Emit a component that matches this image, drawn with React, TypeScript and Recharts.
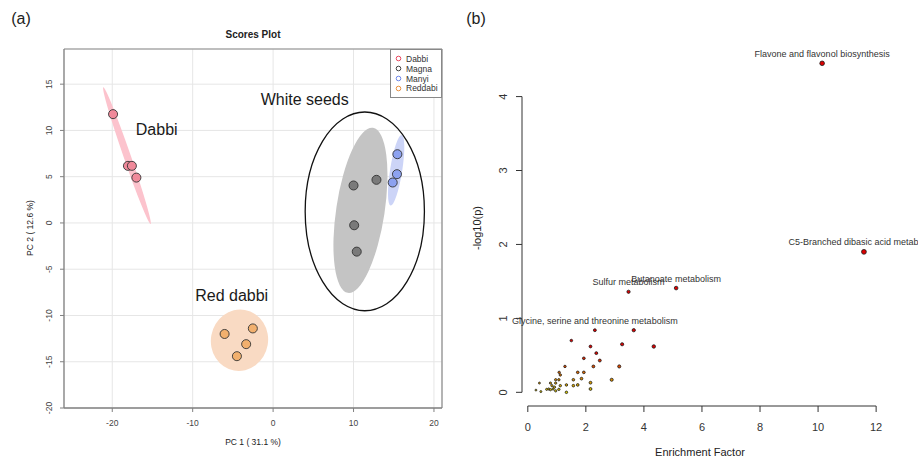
import { ScatterChart, Scatter, XAxis, YAxis, CartesianGrid, ReferenceLine } from "recharts";

const FONT = '"Liberation Sans", Arial, Helvetica, sans-serif';

// ---- (a) PCA scores ----
const dabbiScores = [
  { x: -19.9, y: 11.76 },
  { x: -18.05, y: 6.17 },
  { x: -17.56, y: 6.17 },
  { x: -17.0, y: 4.9 },
];
const magnaScores = [
  { x: 10.0, y: 4.05 },
  { x: 12.85, y: 4.66 },
  { x: 10.08, y: -0.25 },
  { x: 10.4, y: -3.1 },
];
const manyiScores = [
  { x: 15.45, y: 7.43 },
  { x: 15.4, y: 5.27 },
  { x: 14.87, y: 4.37 },
];
const reddabiScores = [
  { x: -6.03, y: -12.0 },
  { x: -2.52, y: -11.4 },
  { x: -3.35, y: -13.1 },
  { x: -4.5, y: -14.4 },
];

// confidence ellipses: centre, one end of the major axis, minor/major ratio
const ellipseGroups = ["Dabbi", "Magna", "Manyi", "Reddabi", "White seeds"];
const ellipseCentres = [
  { x: -18.17, y: 7.27 },
  { x: 10.86, y: 1.37 },
  { x: 15.3, y: 5.7 },
  { x: -4.18, y: -12.68 },
  { x: 11.4, y: 1.25 },
];
const ellipseTips = [
  { x: -21.11, y: 14.66 },
  { x: 12.42, y: 10.29 },
  { x: 15.99, y: 9.51 },
  { x: -3.5, y: -9.41 },
  { x: 11.4, y: 11.99 },
];
const ellipseRatios = [0.05, 0.29, 0.17, 0.93, 0.6];

const groupLabelText = ["Dabbi", "White seeds", "Red dabbi"];
const groupLabelX = [-14.47, 3.93, -5.15];
const groupLabelY = [10.15, 13.36, -7.86];

const pcXTicks = [-20, -10, 0, 10, 20];
const pcYTicks = [-20, -15, -10, -5, 0, 5, 10, 15];

// ---- (b) enrichment ----
const namedPathways = [
  "Flavone and flavonol biosynthesis",
  "C5-Branched dibasic acid metabolism",
  "Butanoate metabolism",
  "Sulfur metabolism",
  "Glycine, serine and threonine metabolism",
];
const namedEF = [10.14, 11.58, 5.11, 3.47, 2.31];
const namedLogP = [4.45, 1.9, 1.41, 1.36, 0.84];

const otherEF = [
  3.65, 1.5, 2.16, 3.25, 4.34, 2.36, 1.93, 2.48, 1.28, 2.26, 3.15, 1.08, 1.12, 1.72,
  1.93, 1.85, 1.07, 0.96, 1.57, 2.89, 2.16, 0.78, 0.96, 0.4, 1.33, 1.72, 1.57, 1.12,
  0.83, 0.92, 0.72, 0.87, 2.16, 0.65, 1.07, 0.96, 0.28, 0.45, 1.33, 0.78,
];
const otherLogP = [
  0.84, 0.7, 0.62, 0.65, 0.62, 0.53, 0.46, 0.43, 0.35, 0.35, 0.35, 0.27, 0.235, 0.27,
  0.27, 0.185, 0.17, 0.17, 0.17, 0.17, 0.13, 0.125, 0.125, 0.125, 0.1, 0.1, 0.09, 0.09,
  0.09, 0.07, 0.045, 0.045, 0.045, 0.04, 0.04, 0.02, 0.03, 0.01, 0.0, 0.035,
];

const efTicks = [0, 2, 4, 6, 8, 10, 12];
const logPTicks = [0, 1, 2, 3, 4];

// ---- layout ----
const A_W = 460;
const A_H = 460;
const A_MARGIN = { top: 49, right: 18, bottom: 0, left: 0 };
const A_YAXIS_W = 64;
const A_XAXIS_H = 52;
const A_XDOM: [number, number] = [-26, 21];
const A_YDOM: [number, number] = [-20, 18.8];
const KX_A = (A_W - A_MARGIN.left - A_MARGIN.right - A_YAXIS_W) / (A_XDOM[1] - A_XDOM[0]);
const KY_A = (A_H - A_MARGIN.top - A_MARGIN.bottom - A_XAXIS_H) / (A_YDOM[1] - A_YDOM[0]);

const B_W = 458;
const B_H = 460;
const B_XDOM: [number, number] = [-0.2, 12.03];
const B_YDOM: [number, number] = [-0.185, 4.63];

const GROUP_POINT = {
  Dabbi: "#f0899a",
  Magna: "#7a7a7a",
  Manyi: "#8da2f0",
  Reddabi: "#f2b06e",
};
const GROUP_LEGEND = {
  Dabbi: "#e8485f",
  Magna: "#404040",
  Manyi: "#6c85e8",
  Reddabi: "#e89040",
};
const ELLIPSE_STYLE: Record<string, { fill: string; stroke: string; sw: number }> = {
  Dabbi: { fill: "#fcc3cd", stroke: "none", sw: 0 },
  Magna: { fill: "#c4c4c4", stroke: "none", sw: 0 },
  Manyi: { fill: "#ccd4f7", stroke: "none", sw: 0 },
  Reddabi: { fill: "#f9dac3", stroke: "none", sw: 0 },
  "White seeds": { fill: "none", stroke: "#111", sw: 1.3 },
};

const ellipses = ellipseGroups.map((g, i) => ({
  group: g,
  x: ellipseCentres[i].x,
  y: ellipseCentres[i].y,
  tipX: ellipseTips[i].x,
  tipY: ellipseTips[i].y,
  ratio: ellipseRatios[i],
}));
const groupLabels = groupLabelText.map((t, i) => ({ text: t, x: groupLabelX[i], y: groupLabelY[i] }));
const pathways = [
  ...otherEF.map((x, i) => ({ x, y: otherLogP[i], name: "" })),
  ...namedEF.map((x, i) => ({ x, y: namedLogP[i], name: namedPathways[i] })),
];

function EllipseShape(props: any) {
  const { cx, cy, payload } = props;
  const dx = (payload.tipX - payload.x) * KX_A;
  const dy = -(payload.tipY - payload.y) * KY_A;
  const a = Math.hypot(dx, dy);
  const ang = (Math.atan2(dy, dx) * 180) / Math.PI;
  const st = ELLIPSE_STYLE[payload.group];
  return (
    <ellipse
      cx={cx}
      cy={cy}
      rx={a}
      ry={a * payload.ratio}
      transform={`rotate(${ang} ${cx} ${cy})`}
      fill={st.fill}
      stroke={st.stroke}
      strokeWidth={st.sw}
    />
  );
}

// yellow (weak) -> red (strong), like R's heat colours
function heat(v: number) {
  const t = Math.max(0, Math.min(1, v / 0.55));
  return `rgb(220, ${Math.round(205 * (1 - t))}, 0)`;
}

function PathwayDot(props: any) {
  const { cx, cy, payload } = props;
  const r = 0.65 + 0.52 * Math.sqrt(payload.x);
  return (
    <g>
      <circle cx={cx} cy={cy} r={r} fill={heat(payload.y)} stroke="#1a1a1a" strokeWidth={0.8} />
      {payload.name && (
        <text
          x={cx}
          y={cy - 9.5}
          textAnchor="middle"
          dominantBaseline="central"
          fontSize={9}
          fill="#333"
          fontFamily={FONT}
        >
          {payload.name}
        </text>
      )}
    </g>
  );
}

function FlatTick({ x, y, payload, size, color }: any) {
  return (
    <text x={x} y={y} textAnchor="middle" dominantBaseline="central" fontSize={size} fill={color} fontFamily={FONT}>
      {payload.value}
    </text>
  );
}

function RotTick({ x, y, payload, size, color }: any) {
  return (
    <text
      x={x}
      y={y}
      transform={`rotate(-90 ${x} ${y})`}
      textAnchor="middle"
      dominantBaseline="central"
      fontSize={size}
      fill={color}
      fontFamily={FONT}
    >
      {payload.value}
    </text>
  );
}

function Centered({ x, y, size, rotate, bold, children }: any) {
  return (
    <div
      style={{
        position: "absolute",
        left: x,
        top: y,
        transform: `translate(-50%, -50%)${rotate ? " rotate(-90deg)" : ""}`,
        whiteSpace: "nowrap",
        lineHeight: 1,
        fontSize: size,
        fontWeight: bold ? "bold" : "normal",
        color: "#222",
      }}
    >
      {children}
    </div>
  );
}

function PcaLegend() {
  const groups = Object.keys(GROUP_LEGEND) as (keyof typeof GROUP_LEGEND)[];
  return (
    <div
      style={{
        position: "absolute",
        left: 390,
        top: 49,
        width: 52,
        height: 49,
        border: "1px solid #888",
        background: "#fff",
        boxSizing: "border-box",
        paddingTop: 4,
      }}
    >
      {groups.map((g) => (
        <div key={g} style={{ display: "flex", alignItems: "center", height: 9.8, fontSize: 8.5, color: "#333" }}>
          <svg width={13} height={9} style={{ marginLeft: 1 }}>
            <circle cx={6.5} cy={4.5} r={2.3} fill="none" stroke={GROUP_LEGEND[g]} strokeWidth={1} />
          </svg>
          <span style={{ marginLeft: 1 }}>{g}</span>
        </div>
      ))}
    </div>
  );
}

export default function App() {
  return (
    <div
      style={{
        position: "absolute",
        left: 0,
        top: 0,
        width: 921,
        height: 460,
        background: "#fff",
        fontFamily: FONT,
        overflow: "hidden",
      }}
    >
      <div style={{ position: "absolute", left: 0, top: 0 }}>
        <ScatterChart width={A_W} height={A_H} margin={A_MARGIN}>
          <CartesianGrid stroke="#e6e6e6" strokeWidth={1} />
          <XAxis
            type="number"
            dataKey="x"
            domain={A_XDOM}
            ticks={pcXTicks}
            interval={0}
            height={A_XAXIS_H}
            axisLine={{ stroke: "#808080", strokeWidth: 1.3 }}
            tickLine={{ stroke: "#808080" }}
            tickSize={4}
            tickMargin={11}
            tick={(p: any) => <FlatTick {...p} size={8.5} color="#444" />}
          />
          <YAxis
            type="number"
            dataKey="y"
            domain={A_YDOM}
            ticks={pcYTicks}
            interval={0}
            width={A_YAXIS_W}
            axisLine={{ stroke: "#808080", strokeWidth: 1.3 }}
            tickLine={{ stroke: "#808080" }}
            tickSize={4}
            tickMargin={11}
            tick={(p: any) => <RotTick {...p} size={8.5} color="#444" />}
          />
          <ReferenceLine y={A_YDOM[1]} stroke="#8a8a8a" strokeWidth={1.2} />
          <ReferenceLine x={A_XDOM[1]} stroke="#8a8a8a" strokeWidth={1.2} />
          <Scatter data={ellipses} shape={(p: any) => <EllipseShape {...p} />} isAnimationActive={false} />
          <Scatter data={dabbiScores} fill={GROUP_POINT.Dabbi} stroke="#333" strokeWidth={0.9} shape="circle" isAnimationActive={false} />
          <Scatter data={magnaScores} fill={GROUP_POINT.Magna} stroke="#333" strokeWidth={0.9} shape="circle" isAnimationActive={false} />
          <Scatter data={manyiScores} fill={GROUP_POINT.Manyi} stroke="#333" strokeWidth={0.9} shape="circle" isAnimationActive={false} />
          <Scatter data={reddabiScores} fill={GROUP_POINT.Reddabi} stroke="#333" strokeWidth={0.9} shape="circle" isAnimationActive={false} />
          <Scatter
            data={groupLabels}
            isAnimationActive={false}
            shape={(p: any) => (
              <text
                x={p.cx}
                y={p.cy}
                textAnchor="middle"
                dominantBaseline="central"
                fontSize={16}
                fill="#1a1a1a"
                fontFamily={FONT}
              >
                {p.payload.text}
              </text>
            )}
          />
        </ScatterChart>
        <PcaLegend />
      </div>

      <div style={{ position: "absolute", left: 460, top: 0, width: B_W, height: B_H, overflow: "hidden" }}>
        <ScatterChart width={B_W} height={B_H} margin={{ top: 50, right: 41, bottom: 0, left: 0 }}>
          <XAxis
            type="number"
            dataKey="x"
            domain={B_XDOM}
            ticks={efTicks}
            interval={0}
            height={54}
            axisLine={false}
            tickLine={{ stroke: "#333" }}
            tickSize={6}
            tickMargin={15}
            tick={(p: any) => <FlatTick {...p} size={11} color="#333" />}
          />
          <YAxis
            type="number"
            dataKey="y"
            domain={B_YDOM}
            ticks={logPTicks}
            interval={0}
            width={62}
            axisLine={false}
            tickLine={{ stroke: "#333" }}
            tickSize={6}
            tickMargin={13}
            tick={(p: any) => <RotTick {...p} size={11} color="#333" />}
          />
          <ReferenceLine
            segment={[
              { x: 0, y: B_YDOM[0] },
              { x: 12, y: B_YDOM[0] },
            ]}
            stroke="#333"
            ifOverflow="visible"
          />
          <ReferenceLine
            segment={[
              { x: B_XDOM[0], y: 0 },
              { x: B_XDOM[0], y: 4 },
            ]}
            stroke="#333"
            ifOverflow="visible"
          />
          <Scatter data={pathways} shape={(p: any) => <PathwayDot {...p} />} isAnimationActive={false} />
        </ScatterChart>
      </div>

      <Centered x={21} y={19} size={16}>(a)</Centered>
      <Centered x={476} y={19} size={16}>(b)</Centered>
      <Centered x={253} y={35} size={10} bold>Scores Plot</Centered>
      <Centered x={253} y={442} size={8.5}>PC 1 ( 31.1 %)</Centered>
      <Centered x={30} y={228} size={8.5} rotate>PC 2 ( 12.6 %)</Centered>
      <Centered x={700} y={452} size={11}>Enrichment Factor</Centered>
      <Centered x={477} y={228} size={11} rotate>-log10(p)</Centered>
    </div>
  );
}
